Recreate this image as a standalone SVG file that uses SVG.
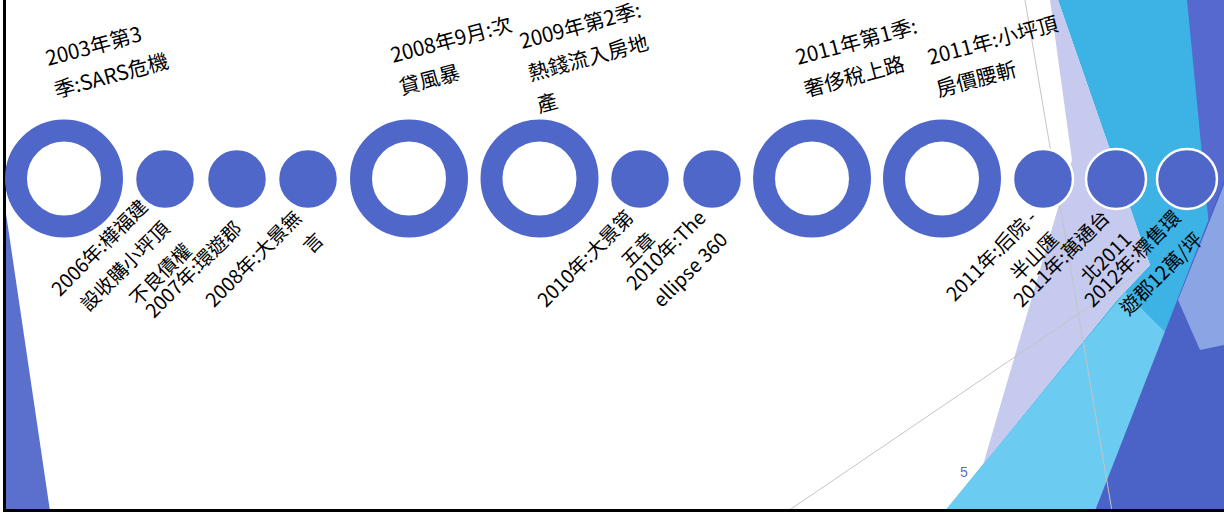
<svg xmlns="http://www.w3.org/2000/svg" width="1224" height="517" viewBox="0 0 1224 517">
<style>
.ring{fill:none;stroke:#4f67c8;stroke-width:22}
.dot{fill:#4f67c8;stroke:#ffffff;stroke-width:2.5}
.lbl{font-family:"Noto Sans CJK TC","Noto Sans CJK SC",sans-serif;font-size:20.6px;fill:#000000}
.bl{text-anchor:end;font-size:19.4px}
.gl{stroke:#c4c4c4;stroke-width:1;fill:none}
</style>
<rect x="0" y="0" width="1224" height="517" fill="#ffffff"/>
<g id="decor">
<polygon points="4,200 50,511 4,511" fill="#5b70cc"/>
<polygon points="1058,0 1224,0 1224,511 945,511 1117,300 1150,265" fill="#3cb2e5"/>
<polygon points="1187,0 1224,0 1224,380" fill="#5569ce"/>
<polygon points="1050,0 1058,0 1150,265 1117,300 983,465 1072,160" fill="#c5caee"/>
<polygon points="945,511 1125,292 1168,335 1095,511" fill="#6ccbf0"/>
<polygon points="1095,511 1224,511 1224,180" fill="#4b63c6"/>
<polygon points="1178,300 1224,185 1224,345 1200,350" fill="#8aa4e4"/>
<line class="gl" x1="1025" y1="0" x2="1112" y2="511"/>
<line class="gl" x1="788" y1="511" x2="1140" y2="272"/>
</g>
<g id="border" stroke="#000000" stroke-width="3">
<line x1="4.5" y1="0" x2="4.5" y2="511"/>
<line x1="3" y1="510.5" x2="1224" y2="510.5"/>
</g>
<g id="connectors"></g>
<g id="n1"><circle class="ring" cx="64" cy="178.5" r="48"/>
<text class="lbl" transform="translate(48,66) rotate(-15)"><tspan x="0" y="0">2003年第3</tspan><tspan x="0" y="33">季:SARS危機</tspan></text></g>
<g id="n2"><circle class="dot" cx="165" cy="179" r="30"/>
<text class="lbl bl" transform="translate(171,230) rotate(-45)"><tspan x="0" y="-31">2006年:樺福建</tspan><tspan x="0" y="0">設收購小坪頂</tspan><tspan x="0" y="31">不良債權</tspan></text></g>
<g id="n3"><circle class="dot" cx="237" cy="179" r="30"/>
<text class="lbl bl" transform="translate(243,230) rotate(-45)"><tspan x="0" y="0">2007年:環遊郡</tspan></text></g>
<g id="n4"><circle class="dot" cx="308" cy="179" r="30"/>
<text class="lbl bl" transform="translate(314,230) rotate(-45)"><tspan x="0" y="-15.5">2008年:大景無</tspan><tspan x="0" y="15.5">言</tspan></text></g>
<g id="n5"><circle class="ring" cx="409" cy="178.5" r="48"/>
<text class="lbl" transform="translate(393,63) rotate(-15)"><tspan x="0" y="0">2008年9月:次</tspan><tspan x="0" y="33">貸風暴</tspan></text></g>
<g id="n6"><circle class="ring" cx="539.5" cy="178.5" r="48"/>
<text class="lbl" transform="translate(522,49) rotate(-15)"><tspan x="0" y="0">2009年第2季:</tspan><tspan x="0" y="33">熱錢流入房地</tspan><tspan x="0" y="66">產</tspan></text></g>
<g id="n7"><circle class="dot" cx="640" cy="179" r="30"/>
<text class="lbl bl" transform="translate(646,230) rotate(-45)"><tspan x="0" y="-15.5">2010年:大景第</tspan><tspan x="0" y="15.5">五章</tspan></text></g>
<g id="n8"><circle class="dot" cx="712" cy="179" r="30"/>
<text class="lbl bl" transform="translate(718,230) rotate(-45)"><tspan x="0" y="-15.5">2010年:The</tspan><tspan x="0" y="15.5">ellipse 360</tspan></text></g>
<g id="n9"><circle class="ring" cx="812" cy="178.5" r="48"/>
<text class="lbl" transform="translate(798,65) rotate(-15)"><tspan x="0" y="0">2011年第1季:</tspan><tspan x="0" y="33">奢侈稅上路</tspan></text></g>
<g id="n10"><circle class="ring" cx="942" cy="178.5" r="48"/>
<text class="lbl" transform="translate(930,65) rotate(-15)"><tspan x="0" y="0">2011年:小坪頂</tspan><tspan x="0" y="33">房價腰斬</tspan></text></g>
<g id="n11"><circle class="dot" cx="1043" cy="179" r="30"/>
<text class="lbl bl" transform="translate(1049,230) rotate(-45)"><tspan x="0" y="-15.5">2011年:后院 -</tspan><tspan x="0" y="15.5">半山匯</tspan></text></g>
<g id="n12"><circle class="dot" cx="1116" cy="179" r="30"/>
<text class="lbl bl" transform="translate(1122,230) rotate(-45)"><tspan x="0" y="-15.5">2011年:萬通台</tspan><tspan x="0" y="15.5">北2011</tspan></text></g>
<g id="n13"><circle class="dot" cx="1187" cy="179" r="30"/>
<text class="lbl bl" transform="translate(1193,230) rotate(-45)"><tspan x="0" y="-15.5">2012年:標售環</tspan><tspan x="0" y="15.5">遊郡12萬/坪</tspan></text></g>
<text id="pagenum" x="960" y="477" font-family="Liberation Sans, sans-serif" font-size="14" fill="#5a6fd0">5</text>
</svg>
